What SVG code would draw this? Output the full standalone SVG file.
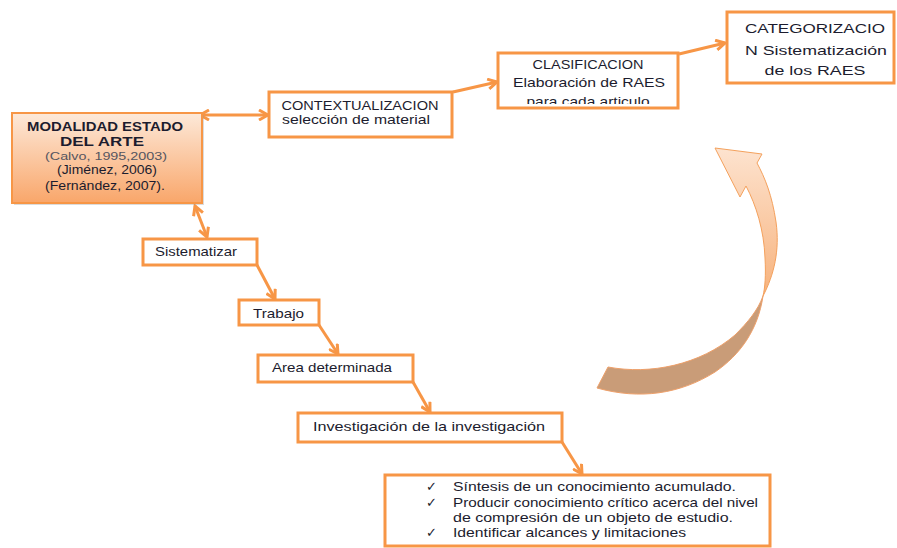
<svg xmlns="http://www.w3.org/2000/svg" width="897" height="548" viewBox="0 0 897 548">
<style>
.box{fill:#ffffff;stroke:#f79646;stroke-width:3}
.t{font-family:"Liberation Sans","DejaVu Sans",sans-serif;fill:#1c1c2e;font-size:13px}
.c{text-anchor:middle}
.g{fill:#555560;font-size:11.5px}
.con{stroke:#f79646;stroke-width:3;fill:none}
</style>
<defs>
<marker id="ah" viewBox="0 0 12 12" refX="10" refY="6" markerWidth="12" markerHeight="12" markerUnits="userSpaceOnUse" orient="auto-start-reverse">
<path d="M1,1 L10,6 L1,11" fill="none" stroke="#f79646" stroke-width="3" stroke-linejoin="miter"/>
</marker>
<linearGradient id="mg" x1="0" y1="0" x2="0" y2="1">
<stop offset="0" stop-color="#fde9d9"/>
<stop offset="1" stop-color="#f9a66a"/>
</linearGradient>
<linearGradient id="hg" x1="0" y1="0" x2="0" y2="1">
<stop offset="0" stop-color="#fde3cf"/>
<stop offset="1" stop-color="#f7b27c"/>
</linearGradient>
<clipPath id="clc"><rect x="499" y="54" width="178" height="50"/></clipPath>
</defs>

<g id="connectors">
<line class="con" x1="200" y1="115" x2="268" y2="115" marker-start="url(#ah)" marker-end="url(#ah)"/>
<line class="con" x1="453" y1="92" x2="497" y2="82" marker-end="url(#ah)"/>
<line class="con" x1="679" y1="54" x2="725" y2="43" marker-end="url(#ah)"/>
<line class="con" x1="195" y1="206" x2="207" y2="237" marker-start="url(#ah)" marker-end="url(#ah)"/>
<line class="con" x1="257" y1="265" x2="275" y2="299" marker-end="url(#ah)"/>
<line class="con" x1="319" y1="325" x2="338" y2="354" marker-end="url(#ah)"/>
<line class="con" x1="413" y1="382" x2="430" y2="412" marker-end="url(#ah)"/>
<line class="con" x1="562" y1="442" x2="582" y2="474" marker-end="url(#ah)"/>
</g>

<g id="cycle-arrow">
<path d="M597,388 L608,367 C650,375 700,365 735,335 C748,322 758,310 763,296 C758,330 740,355 715,372 C680,394 640,400 597,388 Z" fill="#c99c78" stroke="#eea06a" stroke-width="1"/>
<path d="M763,296 C774,275 780,250 776,222 C772,195 765,178 757,163 L762,154 L715,148 L740,197 L746,186 C756,205 764,230 765,258 C766,275 765,288 763,296 Z" fill="url(#hg)" stroke="#f4a15d" stroke-width="1"/>
</g>

<g id="modalidad">
<rect x="14" y="115" width="190" height="90" fill="#999" opacity="0.35"/>
<rect x="12" y="113" width="190" height="90" fill="url(#mg)" stroke="#f79646" stroke-width="2"/>
<text class="t c" x="105" y="131" font-weight="bold" font-size="13" textLength="156" lengthAdjust="spacingAndGlyphs">MODALIDAD ESTADO</text>
<text class="t c" x="102" y="146" font-weight="bold" font-size="13" textLength="84" lengthAdjust="spacingAndGlyphs">DEL ARTE</text>
<text class="t c g" x="106" y="160" textLength="122" lengthAdjust="spacingAndGlyphs">(Calvo, 1995,2003)</text>
<text class="t c" x="107" y="174" font-size="11.5" textLength="100" lengthAdjust="spacingAndGlyphs">(Jiménez, 2006)</text>
<text class="t c" x="105" y="190" font-size="11.5" textLength="120" lengthAdjust="spacingAndGlyphs">(Fernández, 2007).</text>
</g>

<g id="contextualizacion">
<rect class="box" x="269" y="92" width="183" height="45"/>
<text class="t c" x="360" y="110" textLength="157" lengthAdjust="spacingAndGlyphs">CONTEXTUALIZACION</text>
<text class="t c" x="356" y="124" textLength="148" lengthAdjust="spacingAndGlyphs">selección de material</text>
</g>

<g id="clasificacion">
<rect class="box" x="498" y="53" width="180" height="55"/>
<text class="t c" x="588" y="69" textLength="111" lengthAdjust="spacingAndGlyphs">CLASIFICACION</text>
<text class="t c" x="589" y="87" textLength="152" lengthAdjust="spacingAndGlyphs">Elaboración de RAES</text>
<text class="t c" x="588" y="106" clip-path="url(#clc)" textLength="123" lengthAdjust="spacingAndGlyphs">para cada articulo</text>
</g>

<g id="categorizacion">
<rect class="box" x="727" y="12" width="167" height="71"/>
<text class="t c" x="815" y="33" font-size="15.5" textLength="140" lengthAdjust="spacingAndGlyphs">CATEGORIZACIO</text>
<text class="t c" x="816" y="55" font-size="15.5" textLength="142" lengthAdjust="spacingAndGlyphs">N Sistematización</text>
<text class="t c" x="815" y="75" font-size="15.5" textLength="101" lengthAdjust="spacingAndGlyphs">de los RAES</text>
</g>

<g id="sistematizar">
<rect class="box" x="143" y="239" width="114" height="26"/>
<text class="t" x="155" y="256" textLength="82" lengthAdjust="spacingAndGlyphs">Sistematizar</text>
</g>

<g id="trabajo">
<rect class="box" x="239" y="300" width="80" height="25"/>
<text class="t" x="253" y="318" textLength="51" lengthAdjust="spacingAndGlyphs">Trabajo</text>
</g>

<g id="area">
<rect class="box" x="258" y="355" width="155" height="27"/>
<text class="t" x="272" y="372" textLength="120" lengthAdjust="spacingAndGlyphs">Area determinada</text>
</g>

<g id="investigacion">
<rect class="box" x="298" y="413" width="264" height="29"/>
<text class="t" x="313" y="431" textLength="232" lengthAdjust="spacingAndGlyphs">Investigación de la investigación</text>
</g>

<g id="lista">
<rect class="box" x="385" y="475" width="385" height="71"/>
<text class="t" x="426" y="491" font-size="12">✓</text>
<text class="t" x="453" y="491" textLength="283" lengthAdjust="spacingAndGlyphs">Síntesis de un conocimiento acumulado.</text>
<text class="t" x="426" y="507" font-size="12">✓</text>
<text class="t" x="453" y="507" textLength="305" lengthAdjust="spacingAndGlyphs">Producir conocimiento crítico acerca del nivel</text>
<text class="t" x="453" y="522" textLength="280" lengthAdjust="spacingAndGlyphs">de compresión de un objeto de estudio.</text>
<text class="t" x="426" y="537" font-size="12">✓</text>
<text class="t" x="453" y="537" textLength="233" lengthAdjust="spacingAndGlyphs">Identificar alcances y limitaciones</text>
</g>
</svg>
